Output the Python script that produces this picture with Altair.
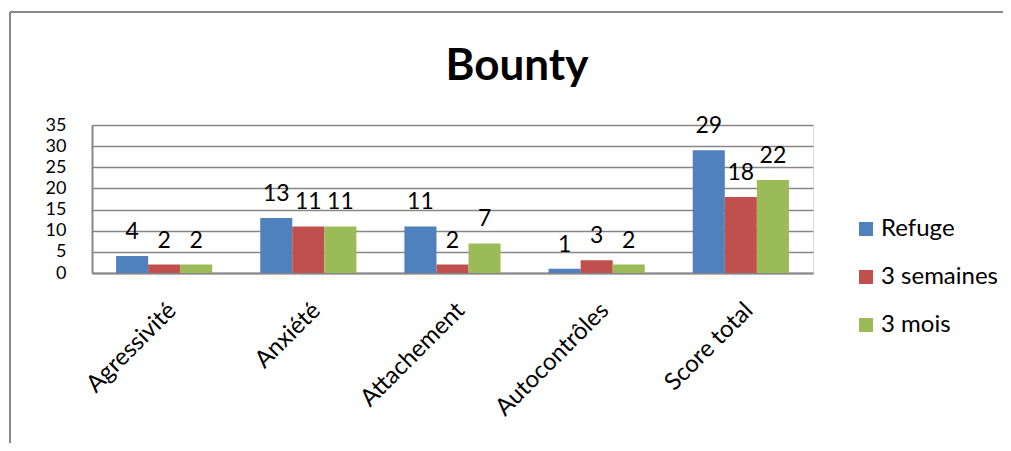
import altair as alt
import pandas as pd

categories = ["Agressivité", "Anxiété", "Attachement", "Autocontrôles", "Score total"]
series = ["Refuge", "3 semaines", "3 mois"]
refuge = [4, 13, 11, 1, 29]
semaines = [2, 11, 2, 3, 18]
mois = [2, 11, 7, 2, 22]
colors = ["#4F81BD", "#C0504D", "#9BBB59"]
title_text = ["Bounty"]

rows = []
for s, vals in zip(series, [refuge, semaines, mois]):
    for c, v in zip(categories, vals):
        rows.append({"cat": c, "series": s, "value": v})
df = pd.DataFrame(rows)

FONT = "Lato"

x = alt.X("cat:N", sort=categories,
          scale=alt.Scale(paddingInner=0.333, paddingOuter=0.167),
          axis=alt.Axis(title=None, labelAngle=-45, labelFontSize=24, labelColor="black",
                        labelFont=FONT, ticks=False, domainColor="#868686", domainWidth=2,
                        labelPadding=25))
xo = alt.XOffset("series:N", sort=series, scale=alt.Scale(paddingInner=0, paddingOuter=0))
y = alt.Y("value:Q", scale=alt.Scale(domain=[0, 35]),
          axis=alt.Axis(title=None, values=[0, 5, 10, 15, 20, 25, 30, 35], labelFontSize=18,
                        labelFont=FONT, labelColor="black", ticks=False, domainColor="#868686",
                        domainWidth=2, gridColor="#868686", gridWidth=1.5, labelPadding=26,
                        labelOverlap=False, labelBound=False))
color = alt.Color("series:N", sort=series, scale=alt.Scale(domain=series, range=colors),
                  legend=alt.Legend(title=None, orient="none", legendX=762, legendY=92,
                                    symbolType="square", symbolSize=196, symbolStrokeWidth=0,
                                    labelFontSize=24, labelFont=FONT, labelColor="black",
                                    rowPadding=24, labelOffset=3))

bars = alt.Chart(df).mark_bar().encode(x=x, xOffset=xo, y=y, color=color)
labels = alt.Chart(df).mark_text(baseline="alphabetic", dy=-17, fontSize=23, font=FONT,
                                 color="black").encode(x=x, xOffset=xo, y=y, text="value:Q")

frame_left = alt.Chart(df).mark_rule(color="#888888", strokeWidth=2).encode(
    x=alt.value(-82), y=alt.value(-113), y2=alt.value(340))
frame_top = alt.Chart(df).mark_rule(color="#888888", strokeWidth=2).encode(
    x=alt.value(-82), x2=alt.value(930), y=alt.value(-113))

title = alt.Chart(pd.DataFrame({"t": title_text})).mark_text(
    fontSize=44, fontWeight="bold", font=FONT, color="black", baseline="alphabetic",
    align="center").encode(x=alt.value(425), y=alt.value(-45), text="t:N")

chart = alt.layer(frame_left, frame_top, bars, labels, title).properties(
    width=721, height=148,
    autosize=alt.AutoSizeParams(type="none"),
    padding={"left": 84, "top": 117, "right": 190, "bottom": 170},
).configure_view(stroke=None).configure(background="white")

chart.save("out.html", embed_options={"renderer": "svg", "actions": False})
